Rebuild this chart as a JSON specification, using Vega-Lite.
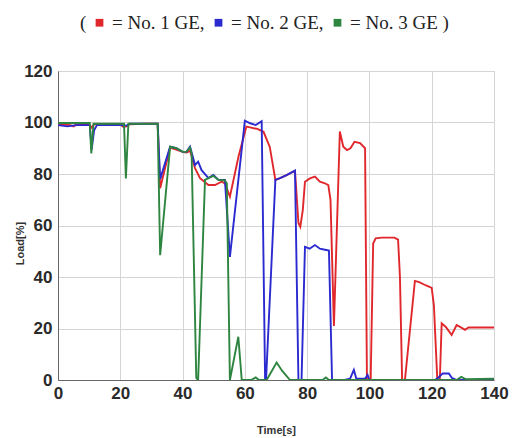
{
  "$schema": "https://vega.github.io/schema/vega-lite/v6.json",
  "width": 436,
  "height": 309,
  "autosize": {"type": "none"},
  "padding": {"left": 58, "top": 71, "right": 19, "bottom": 58},
  "background": "white",
  "config": {"view": {"stroke": "#c8c8c8", "strokeWidth": 1}},
  "datasets": {
    "load": [
      {"t":0,"v":99.3,"s":"No. 1 GE"},{"t":4,"v":99,"s":"No. 1 GE"},{"t":5,"v":98.5,"s":"No. 1 GE"},{"t":6,"v":99.3,"s":"No. 1 GE"},{"t":10,"v":99.3,"s":"No. 1 GE"},{"t":10.8,"v":98,"s":"No. 1 GE"},{"t":11.6,"v":99.3,"s":"No. 1 GE"},{"t":20,"v":99.3,"s":"No. 1 GE"},{"t":21,"v":98.3,"s":"No. 1 GE"},{"t":22,"v":98.5,"s":"No. 1 GE"},{"t":23,"v":99.3,"s":"No. 1 GE"},{"t":28,"v":99.5,"s":"No. 1 GE"},{"t":32,"v":99.5,"s":"No. 1 GE"},{"t":32.8,"v":74.5,"s":"No. 1 GE"},{"t":36,"v":90.3,"s":"No. 1 GE"},{"t":38,"v":89.5,"s":"No. 1 GE"},{"t":40.2,"v":88.5,"s":"No. 1 GE"},{"t":41.3,"v":88.3,"s":"No. 1 GE"},{"t":42.4,"v":89,"s":"No. 1 GE"},{"t":44,"v":82.3,"s":"No. 1 GE"},{"t":45.6,"v":78.4,"s":"No. 1 GE"},{"t":48.3,"v":75.7,"s":"No. 1 GE"},{"t":50.4,"v":75.7,"s":"No. 1 GE"},{"t":52.5,"v":77,"s":"No. 1 GE"},{"t":53.6,"v":76.4,"s":"No. 1 GE"},{"t":55.2,"v":71.2,"s":"No. 1 GE"},{"t":58,"v":87,"s":"No. 1 GE"},{"t":60.5,"v":98.4,"s":"No. 1 GE"},{"t":62,"v":98,"s":"No. 1 GE"},{"t":64,"v":97.5,"s":"No. 1 GE"},{"t":66,"v":96.4,"s":"No. 1 GE"},{"t":68,"v":90.5,"s":"No. 1 GE"},{"t":69.8,"v":77.7,"s":"No. 1 GE"},{"t":71.3,"v":78.4,"s":"No. 1 GE"},{"t":73.4,"v":79.6,"s":"No. 1 GE"},{"t":76.1,"v":81.3,"s":"No. 1 GE"},{"t":77.2,"v":61,"s":"No. 1 GE"},{"t":77.8,"v":59.5,"s":"No. 1 GE"},{"t":78.6,"v":66,"s":"No. 1 GE"},{"t":79.3,"v":77,"s":"No. 1 GE"},{"t":80.9,"v":78.3,"s":"No. 1 GE"},{"t":82.5,"v":79,"s":"No. 1 GE"},{"t":84.1,"v":77,"s":"No. 1 GE"},{"t":85.7,"v":76.4,"s":"No. 1 GE"},{"t":86.8,"v":75.7,"s":"No. 1 GE"},{"t":87.5,"v":70,"s":"No. 1 GE"},{"t":88.6,"v":21,"s":"No. 1 GE"},{"t":90.5,"v":96.5,"s":"No. 1 GE"},{"t":91.6,"v":90.6,"s":"No. 1 GE"},{"t":92.8,"v":89.3,"s":"No. 1 GE"},{"t":93.9,"v":90,"s":"No. 1 GE"},{"t":95.2,"v":92.5,"s":"No. 1 GE"},{"t":97,"v":92,"s":"No. 1 GE"},{"t":98.6,"v":90,"s":"No. 1 GE"},{"t":99.2,"v":0,"s":"No. 1 GE"},{"t":100.4,"v":0,"s":"No. 1 GE"},{"t":101.2,"v":53,"s":"No. 1 GE"},{"t":102,"v":55,"s":"No. 1 GE"},{"t":104,"v":55.3,"s":"No. 1 GE"},{"t":106,"v":55.3,"s":"No. 1 GE"},{"t":108,"v":55.3,"s":"No. 1 GE"},{"t":109.2,"v":54.5,"s":"No. 1 GE"},{"t":109.8,"v":40,"s":"No. 1 GE"},{"t":110.5,"v":0,"s":"No. 1 GE"},{"t":111.4,"v":0,"s":"No. 1 GE"},{"t":114.6,"v":38.5,"s":"No. 1 GE"},{"t":116,"v":38,"s":"No. 1 GE"},{"t":118,"v":36.8,"s":"No. 1 GE"},{"t":120,"v":35.8,"s":"No. 1 GE"},{"t":120.7,"v":29,"s":"No. 1 GE"},{"t":121.8,"v":0,"s":"No. 1 GE"},{"t":122.6,"v":0,"s":"No. 1 GE"},{"t":123.2,"v":22,"s":"No. 1 GE"},{"t":124.6,"v":20.5,"s":"No. 1 GE"},{"t":126.4,"v":17.5,"s":"No. 1 GE"},{"t":128,"v":21.3,"s":"No. 1 GE"},{"t":129.1,"v":20.6,"s":"No. 1 GE"},{"t":130.7,"v":19.5,"s":"No. 1 GE"},{"t":131.8,"v":20.4,"s":"No. 1 GE"},{"t":135,"v":20.4,"s":"No. 1 GE"},{"t":140,"v":20.4,"s":"No. 1 GE"},

      {"t":0,"v":99,"s":"No. 2 GE"},{"t":3,"v":98.5,"s":"No. 2 GE"},{"t":6,"v":99,"s":"No. 2 GE"},{"t":10.2,"v":99,"s":"No. 2 GE"},{"t":10.8,"v":89.5,"s":"No. 2 GE"},{"t":11.6,"v":97,"s":"No. 2 GE"},{"t":12.5,"v":99,"s":"No. 2 GE"},{"t":20,"v":99,"s":"No. 2 GE"},{"t":22,"v":98.8,"s":"No. 2 GE"},{"t":23,"v":99.5,"s":"No. 2 GE"},{"t":32,"v":99.5,"s":"No. 2 GE"},{"t":32.8,"v":78,"s":"No. 2 GE"},{"t":36,"v":90.6,"s":"No. 2 GE"},{"t":38,"v":90,"s":"No. 2 GE"},{"t":40.2,"v":88.5,"s":"No. 2 GE"},{"t":41.3,"v":88.7,"s":"No. 2 GE"},{"t":42.4,"v":90.6,"s":"No. 2 GE"},{"t":44,"v":83.5,"s":"No. 2 GE"},{"t":45,"v":84.8,"s":"No. 2 GE"},{"t":46.1,"v":81.5,"s":"No. 2 GE"},{"t":48.3,"v":78.4,"s":"No. 2 GE"},{"t":49.9,"v":79.6,"s":"No. 2 GE"},{"t":51.5,"v":77.7,"s":"No. 2 GE"},{"t":53.6,"v":77.7,"s":"No. 2 GE"},{"t":55.2,"v":47.8,"s":"No. 2 GE"},{"t":60,"v":100.7,"s":"No. 2 GE"},{"t":61.7,"v":99.7,"s":"No. 2 GE"},{"t":63.5,"v":99,"s":"No. 2 GE"},{"t":65.4,"v":100.5,"s":"No. 2 GE"},{"t":66.5,"v":0,"s":"No. 2 GE"},{"t":66.8,"v":0,"s":"No. 2 GE"},{"t":69.8,"v":77.7,"s":"No. 2 GE"},{"t":71.3,"v":78.4,"s":"No. 2 GE"},{"t":73.4,"v":79.6,"s":"No. 2 GE"},{"t":76.1,"v":81.3,"s":"No. 2 GE"},{"t":77.2,"v":0,"s":"No. 2 GE"},{"t":78.2,"v":0,"s":"No. 2 GE"},{"t":79.3,"v":51.7,"s":"No. 2 GE"},{"t":80.8,"v":51,"s":"No. 2 GE"},{"t":82.5,"v":52.4,"s":"No. 2 GE"},{"t":84.1,"v":51,"s":"No. 2 GE"},{"t":85.7,"v":50.6,"s":"No. 2 GE"},{"t":87,"v":50.3,"s":"No. 2 GE"},{"t":88,"v":0,"s":"No. 2 GE"},{"t":92,"v":0,"s":"No. 2 GE"},{"t":93.8,"v":0.5,"s":"No. 2 GE"},{"t":95,"v":3.9,"s":"No. 2 GE"},{"t":95.8,"v":0.5,"s":"No. 2 GE"},{"t":98.6,"v":0.5,"s":"No. 2 GE"},{"t":99.4,"v":2,"s":"No. 2 GE"},{"t":100,"v":0,"s":"No. 2 GE"},{"t":121,"v":0,"s":"No. 2 GE"},{"t":122,"v":0.8,"s":"No. 2 GE"},{"t":123.5,"v":2.5,"s":"No. 2 GE"},{"t":125.5,"v":2.5,"s":"No. 2 GE"},{"t":126.5,"v":0.8,"s":"No. 2 GE"},{"t":128,"v":0,"s":"No. 2 GE"},{"t":140,"v":0,"s":"No. 2 GE"},

      {"t":0,"v":99.8,"s":"No. 3 GE"},{"t":10.2,"v":99.8,"s":"No. 3 GE"},{"t":10.7,"v":88,"s":"No. 3 GE"},{"t":11.4,"v":99.5,"s":"No. 3 GE"},{"t":21.2,"v":99.5,"s":"No. 3 GE"},{"t":21.8,"v":78.3,"s":"No. 3 GE"},{"t":22.6,"v":99.5,"s":"No. 3 GE"},{"t":32,"v":99.5,"s":"No. 3 GE"},{"t":32.8,"v":48.5,"s":"No. 3 GE"},{"t":36,"v":90.6,"s":"No. 3 GE"},{"t":38,"v":90,"s":"No. 3 GE"},{"t":40.2,"v":88.5,"s":"No. 3 GE"},{"t":41.3,"v":88.7,"s":"No. 3 GE"},{"t":42.4,"v":90.3,"s":"No. 3 GE"},{"t":42.9,"v":88,"s":"No. 3 GE"},{"t":44.4,"v":0.8,"s":"No. 3 GE"},{"t":45,"v":0,"s":"No. 3 GE"},{"t":47.2,"v":77.7,"s":"No. 3 GE"},{"t":48.3,"v":78.4,"s":"No. 3 GE"},{"t":49.9,"v":79.3,"s":"No. 3 GE"},{"t":51.5,"v":77.7,"s":"No. 3 GE"},{"t":53.6,"v":77.5,"s":"No. 3 GE"},{"t":54.2,"v":76.4,"s":"No. 3 GE"},{"t":55.2,"v":0,"s":"No. 3 GE"},{"t":57.9,"v":16.8,"s":"No. 3 GE"},{"t":59,"v":0,"s":"No. 3 GE"},{"t":62,"v":0,"s":"No. 3 GE"},{"t":63.5,"v":1,"s":"No. 3 GE"},{"t":64.5,"v":0,"s":"No. 3 GE"},{"t":67,"v":0,"s":"No. 3 GE"},{"t":70.2,"v":6.8,"s":"No. 3 GE"},{"t":72,"v":3.5,"s":"No. 3 GE"},{"t":74.5,"v":0,"s":"No. 3 GE"},{"t":85,"v":0,"s":"No. 3 GE"},{"t":86,"v":1,"s":"No. 3 GE"},{"t":87,"v":0,"s":"No. 3 GE"},{"t":128,"v":0,"s":"No. 3 GE"},{"t":129.5,"v":1.2,"s":"No. 3 GE"},{"t":131,"v":0.3,"s":"No. 3 GE"},{"t":140,"v":0.5,"s":"No. 3 GE"}
    ]
  },
  "data": {"name": "load"},
  "mark": {"type": "line", "strokeWidth": 1.9, "clip": true},
  "encoding": {
    "x": {
      "field": "t", "type": "quantitative",
      "scale": {"domain": [0, 140], "nice": false},
      "axis": {
        "title": "Time[s]", "values": [0, 20, 40, 60, 80, 100, 120, 140],
        "ticks": false, "domainColor": "#666", "gridColor": "#d4d4d4",
        "labelFont": "Liberation Sans", "labelFontSize": 17, "labelFontWeight": "bold", "labelColor": "#2a2a2a",
        "labelPadding": 5, "labelFlush": false,
        "titleFont": "Liberation Sans", "titleFontSize": 11, "titleFontWeight": "bold", "titleColor": "#333", "titlePadding": 23
      }
    },
    "y": {
      "field": "v", "type": "quantitative",
      "scale": {"domain": [0, 120], "nice": false},
      "axis": {
        "title": "Load[%]", "values": [0, 20, 40, 60, 80, 100, 120],
        "ticks": false, "domainColor": "#666", "gridColor": "#d4d4d4",
        "labelFont": "Liberation Sans", "labelFontSize": 17, "labelFontWeight": "bold", "labelColor": "#2a2a2a",
        "labelPadding": 6, "labelFlush": false,
        "titleFont": "Liberation Sans", "titleFontSize": 11, "titleFontWeight": "bold", "titleColor": "#333",
        "titleX": -33, "titleY": 172, "titleAngle": -90, "titleBaseline": "bottom", "titleAlign": "center"
      }
    },
    "color": {
      "field": "s", "type": "nominal",
      "scale": {"domain": ["No. 1 GE", "No. 2 GE", "No. 3 GE"], "range": ["#e0282c", "#2a2ad0", "#2e8540"]},
      "legend": {
        "orient": "none", "legendX": 22, "legendY": -58, "direction": "horizontal",
        "title": "(", "titleOrient": "left", "titleFont": "Liberation Serif", "titleFontSize": 19,
        "titleFontWeight": "normal", "titleColor": "#222", "titlePadding": 3,
        "labelFont": "Liberation Serif", "labelFontSize": 19, "labelColor": "#222",
        "labelExpr": "datum.label == 'No. 3 GE' ? '= No. 3 GE )' : '= ' + datum.label + ','",
        "symbolType": "square", "symbolSize": 60, "symbolStrokeWidth": 0, "symbolOpacity": 1,
        "labelOffset": 3, "columnPadding": 4,
        "encode": {"symbols": {"update": {"fill": {"scale": "color", "field": "value"}, "fillOpacity": {"value": 1}}}}
      }
    }
  }
}
